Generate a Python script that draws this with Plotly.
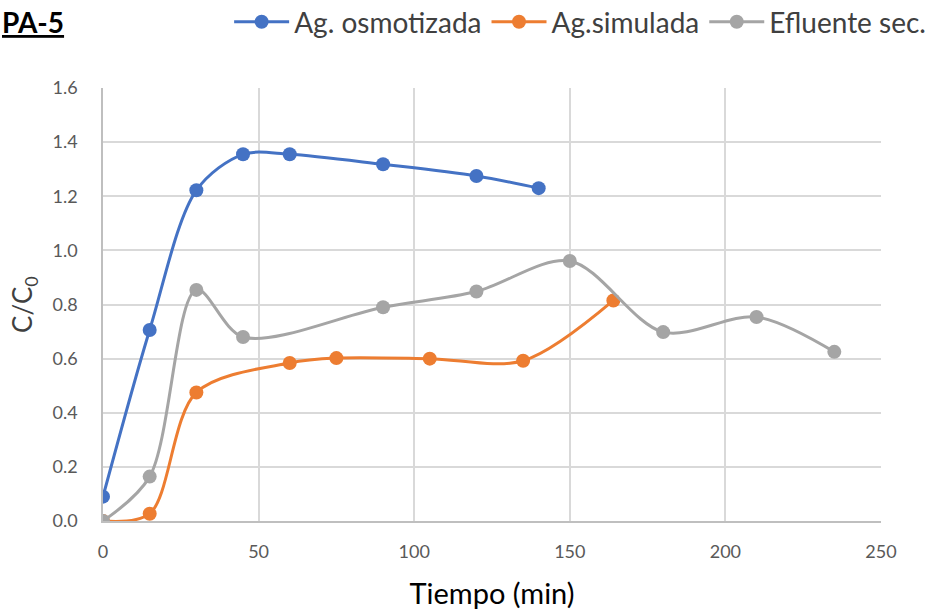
import plotly.graph_objects as go

t_osm = [0, 15, 30, 45, 60, 90, 120, 140]
c_osm = [0.09, 0.706, 1.222, 1.355, 1.355, 1.318, 1.275, 1.23]
t_sim = [0, 15, 30, 60, 75, 105, 135, 164]
c_sim = [0.0, 0.027, 0.475, 0.584, 0.602, 0.6, 0.592, 0.815]
t_efl = [0, 15, 30, 45, 90, 120, 150, 180, 210, 235]
c_efl = [0.0, 0.164, 0.854, 0.68, 0.79, 0.848, 0.961, 0.698, 0.754, 0.625]

names = ["Ag. osmotizada", "Ag.simulada", "Efluente sec."]
colors = ["#4472C4", "#ED7D31", "#A5A5A5"]

fig = go.Figure()
for t, c, n, col in zip([t_osm, t_sim, t_efl], [c_osm, c_sim, c_efl], names, colors):
    fig.add_trace(go.Scatter(x=t, y=c, name=n, mode="lines+markers",
                             line=dict(color=col, width=3, shape="spline", smoothing=0.9),
                             marker=dict(color=col, size=14)))

fig.update_layout(
    width=933, height=612,
    margin=dict(l=103, r=52, t=88, b=91, autoexpand=False),
    paper_bgcolor="white", plot_bgcolor="white",
    font=dict(family="Lato, Open Sans, sans-serif", color="#595959"),
    legend=dict(orientation="h", xref="container", yref="container",
                x=0.998, xanchor="right", y=1 - 22 / 612, yanchor="middle",
                font=dict(size=28, color="#404040"),
                tracegroupgap=0, itemwidth=55),
    showlegend=True,
)
fig.update_xaxes(range=[0, 250], tickvals=[0, 50, 100, 150, 200, 250],
                 showgrid=True, gridcolor="#D9D9D9", gridwidth=1.5,
                 zeroline=False, showline=True, linecolor="#BFBFBF", linewidth=1.5,
                 tickfont=dict(size=18, color="#595959"), ticks="", ticklabelstandoff=14,
                 title=dict(text="Tiempo (min)", font=dict(size=29, color="#000000"), standoff=22))
fig.update_yaxes(range=[0, 1.6], tickvals=[0, 0.2, 0.4, 0.6, 0.8, 1.0, 1.2, 1.4, 1.6],
                 tickformat=".1f",
                 showgrid=True, gridcolor="#D9D9D9", gridwidth=1.5,
                 zeroline=False, showline=True, linecolor="#BFBFBF", linewidth=1.5,
                 tickfont=dict(size=18, color="#595959"), ticks="", ticklabelstandoff=20,
                 title=dict(text="C/C<sub>0</sub>", font=dict(size=26, color="#404040"), standoff=12))
fig.add_annotation(text="<b><u>PA-5</u></b>", xref="paper", yref="paper",
                   x=-103 / 778, y=1 + (88 - 22) / 433, xanchor="left", yanchor="middle",
                   showarrow=False, font=dict(size=28, color="#000000"))
fig.write_html("out.html")
